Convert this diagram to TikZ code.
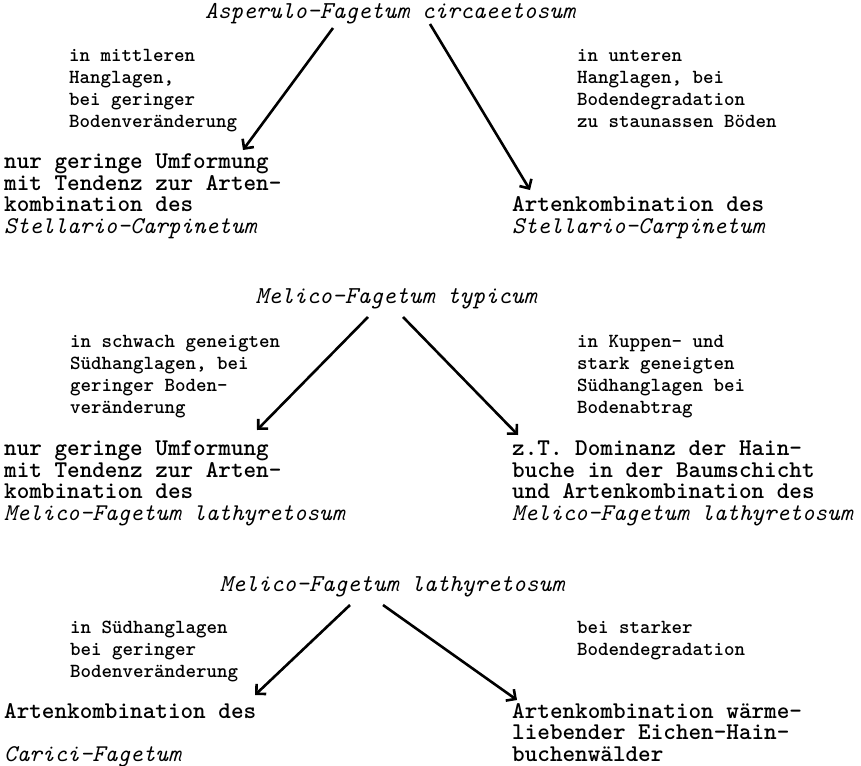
\documentclass[tikz,border=0pt]{standalone}
\usepackage{fontspec}
\setmainfont{lmmonolt10-bold.otf}[ItalicFont=lmmono10-italic.otf]
\usetikzlibrary{arrows.meta}
\tikzset{
  big/.style={anchor=base west, inner sep=0pt, align=left,
    font=\fontsize{24}{21.5}\selectfont},
  small/.style={anchor=base west, inner sep=0pt, align=left,
    font=\fontsize{20}{22}\selectfont},
  title/.style={anchor=base, inner sep=0pt,
    font=\fontsize{24.3}{21.5}\selectfont\itshape},
  flow/.style={line width=2.6pt, -{Straight Barb[length=7pt,width=14pt]}}}

\begin{document}
\begin{tikzpicture}[x=1pt,y=-1pt]
      \useasboundingbox (0,0) rectangle (861,765);

      % Asperulo-Fagetum circaeetosum
      \node [title] (t1) at (390,19) {Asperulo-Fagetum circaeetosum};
      \node [small] (c1l) at (69,128) {in mittleren\\Hanglagen,\\bei geringer\\Bodenveränderung};
      \node [small] (c1r) at (577,128) {in unteren\\Hanglagen, bei\\Bodendegradation\\zu staunassen Böden};
      \node [big] (r1l) at (4,233) {nur geringe Umformung\\mit Tendenz zur Arten-\\kombination des\\\textit{Stellario-Carpinetum}};
      \node [big] (r1r) at (512,233) {Artenkombination des\\\textit{Stellario-Carpinetum}};
      \coordinate (s1l) at (333,28);
      \coordinate (e1l) at (243,150);
      \coordinate (s1r) at (430,24);
      \coordinate (e1r) at (530,190);
      \draw [flow] (s1l) -- (e1l);
      \draw [flow] (s1r) -- (e1r);

      % Melico-Fagetum typicum
      \node [title] (t2) at (396,303) {Melico-Fagetum typicum};
      \node [small] (c2l) at (70,413) {in schwach geneigten\\Südhanglagen, bei\\geringer Boden-\\veränderung};
      \node [small] (c2r) at (577,413) {in Kuppen- und\\stark geneigten\\Südhanglagen bei\\Bodenabtrag};
      \node [big] (r2l) at (4,520) {nur geringe Umformung\\mit Tendenz zur Arten-\\kombination des\\\textit{Melico-Fagetum lathyretosum}};
      \node [big] (r2r) at (512,520) {z.T. Dominanz der Hain-\\buche in der Baumschicht\\und Artenkombination des\\\textit{Melico-Fagetum lathyretosum}};
      \coordinate (s2l) at (368,317);
      \coordinate (e2l) at (257,430);
      \coordinate (s2r) at (403,317);
      \coordinate (e2r) at (518,435);
      \draw [flow] (s2l) -- (e2l);
      \draw [flow] (s2r) -- (e2r);

      % Melico-Fagetum lathyretosum
      \node [title] (t3) at (392,591) {Melico-Fagetum lathyretosum};
      \node [small] (c3l) at (70,677) {in Südhanglagen\\bei geringer\\Bodenveränderung};
      \node [small] (c3r) at (577,655) {bei starker\\Bodendegradation};
      \node [big] (r3l) at (4,761) {Artenkombination des\\[21.5pt]\textit{Carici-Fagetum}};
      \node [big] (r3r) at (512,761) {Artenkombination wärme-\\liebender Eichen-Hain-\\buchenwälder};
      \coordinate (s3l) at (350,605);
      \coordinate (e3l) at (255,695);
      \coordinate (s3r) at (383,605);
      \coordinate (e3r) at (517,700);
      \draw [flow] (s3l) -- (e3l);
      \draw [flow] (s3r) -- (e3r);
    \end{tikzpicture}
\end{document}
